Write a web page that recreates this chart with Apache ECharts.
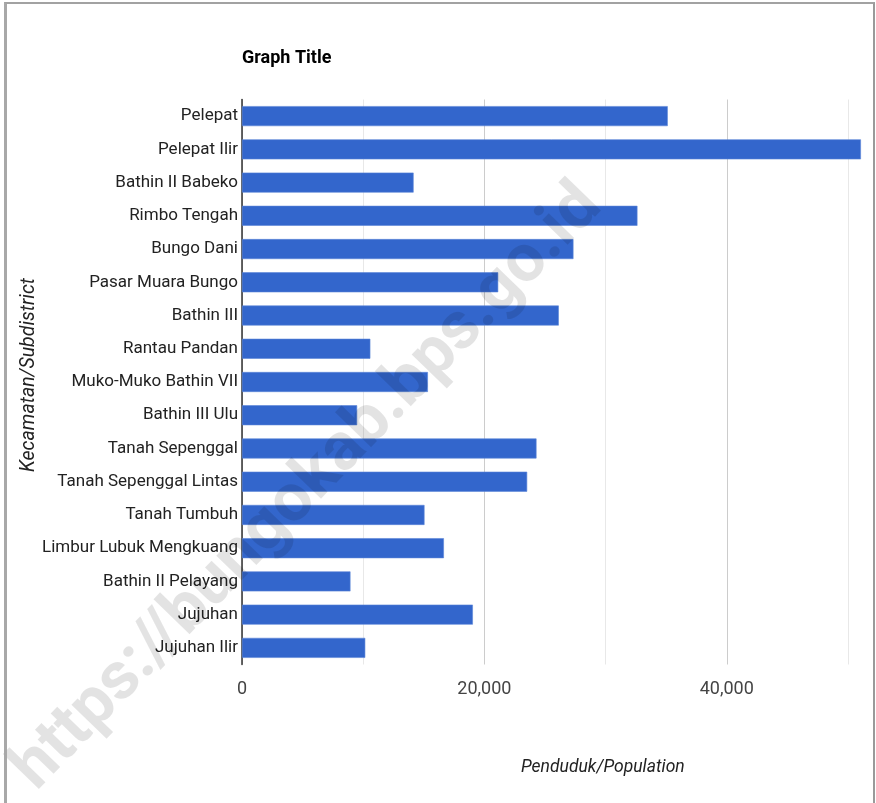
<!DOCTYPE html>
<html>
<head>
<meta charset="utf-8">
<script src="https://cdn.jsdelivr.net/npm/echarts@6/dist/echarts.min.js"></script>
<style>
html,body{margin:0;padding:0;background:#fff;}
#chart{position:absolute;left:0;top:0;width:876px;height:803px;}
#frame{position:absolute;left:4px;top:2px;width:871px;height:803px;box-sizing:border-box;
 border-top:2px solid #a2a2a2;border-left:3px solid #a8a8a8;border-right:2px solid #9a9a9a;pointer-events:none;}
</style>
</head>
<body>
<div id="chart"></div>
<div id="frame"></div>
<script>
const categories = ["Pelepat","Pelepat Ilir","Bathin II Babeko","Rimbo Tengah","Bungo Dani","Pasar Muara Bungo","Bathin III","Rantau Pandan","Muko-Muko Bathin VII","Bathin III Ulu","Tanah Sepenggal","Tanah Sepenggal Lintas","Tanah Tumbuh","Limbur Lubuk Mengkuang","Bathin II Pelayang","Jujuhan","Jujuhan Ilir"];
const population = [35130,51070,14160,32630,27350,21140,26140,10590,15340,9500,24300,23530,15060,16660,8950,19050,10170];
const labeledTicks = [0,20000,40000];
const titleText = "Graph Title";
const xName = "Penduduk/Population";
const yName = "Kecamatan/Subdistrict";
const watermark = "https://bungokab.bps.go.id";

const FONT = "Roboto, 'Liberation Sans', Arial, sans-serif";
const chart = echarts.init(document.getElementById('chart'), null, {renderer:'canvas'});
chart.setOption({
  backgroundColor:'#fff',
  animation:false,
  title:{text:titleText,left:237,top:44,textStyle:{fontFamily:FONT,fontSize:18,fontWeight:'bold',color:'#000'}},
  grid:{left:242,top:99.5,right:13.5,bottom:138.5,containLabel:false},
  xAxis:{type:'value',min:0,max:51200,interval:10000,
    axisLine:{show:false},axisTick:{show:false},
    axisLabel:{margin:16,fontFamily:FONT,fontSize:18,color:'#444',
      formatter:v=>labeledTicks.includes(v)?v.toLocaleString('en-US'):'' ,showMaxLabel:false},
    splitLine:{show:true,showMaxLine:false,lineStyle:{color:['#cccccc','#e8e8e8'],width:1}}
  },
  yAxis:{type:'category',data:categories,inverse:true,
    axisLine:{show:true,lineStyle:{color:'#333',width:1.5}},axisTick:{show:false},
    axisLabel:{margin:4,fontFamily:FONT,fontSize:17,color:'#222'},
    splitLine:{show:false}
  },
  series:[{type:'bar',data:population,barWidth:20,
    itemStyle:{color:'#3366cc',borderColor:'#5b84d6',borderWidth:0.6}}],
  graphic:[
    {type:'text',left:521,top:759,style:{text:xName,font:"italic 17.5px "+FONT,fill:'#222'}},
    {type:'text',x:29,y:375,rotation:Math.PI/2,style:{text:yName,font:"italic 19.5px "+FONT,fill:'#222',align:'center',verticalAlign:'middle'}},
    {type:'text',x:308,y:488,rotation:0.80,z:100,silent:true,
      style:{text:watermark,font:"bold 67px "+FONT,fill:'rgba(0,0,0,0.11)',align:'center',verticalAlign:'middle'}}
  ]
});
</script>
</body>
</html>
